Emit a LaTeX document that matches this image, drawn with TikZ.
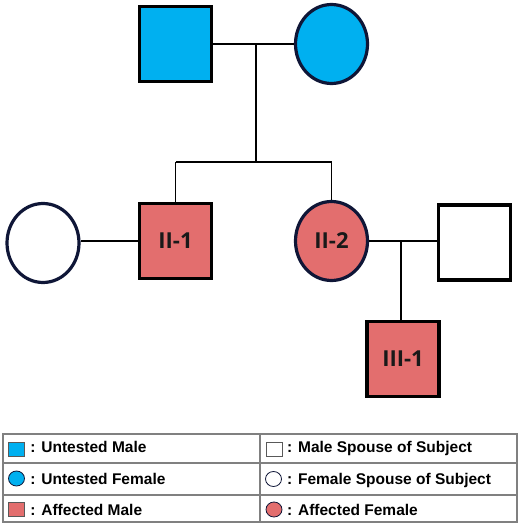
\documentclass[tikz,border=0pt]{standalone}
\usepackage{fontspec}
\setmainfont{Liberation Sans}
\newfontfamily\pedfont{Open Sans}
\usetikzlibrary{shapes.geometric}
\newlength{\du}
\setlength{\du}{1pt}
\definecolor{untestedcolor}{rgb}{0.000000, 0.690196, 0.941176}
\definecolor{affectedcolor}{rgb}{0.890196, 0.431373, 0.431373}
\definecolor{circlecolor}{rgb}{0.058824, 0.086275, 0.215686}
\definecolor{legendcolor}{rgb}{0.501961, 0.501961, 0.501961}
\tikzset{
  male/.style={rectangle, draw=black, line width=3.2\du, minimum width=72\du, minimum height=75\du, inner sep=0pt},
  female/.style={ellipse, draw=circlecolor, line width=3.2\du, minimum width=72\du, minimum height=79\du, inner sep=0pt},
  pedlabel/.style={text=black!90, font=\pedfont\bfseries\fontsize{22}{26}\selectfont},
  keymale/.style={rectangle, draw=black!65, line width=0.8\du, minimum width=16\du, minimum height=14\du, inner sep=0pt},
  keyfemale/.style={ellipse, draw=circlecolor, line width=0.8\du, minimum width=16\du, minimum height=15\du, inner sep=0pt},
  keytext/.style={anchor=base west, inner sep=0pt, font=\bfseries\fontsize{15.5}{18}\selectfont},
  link/.style={draw=black, line width=1.5\du},
}

\begin{document}
\begin{tikzpicture}
\pgftransformxscale{1.000000}
\pgftransformyscale{-1.000000}
\useasboundingbox (0\du,0\du) rectangle (520\du,525\du);
% generation I
\node[male, fill=untestedcolor] (father) at (175.5\du,44\du){};
\node[female, fill=untestedcolor] (mother) at (331.5\du,44\du){};
\coordinate (mI) at (256\du,44\du);
\coordinate (sib) at (256\du,162\du);
% generation II
\node[female, fill=white] (wifeII) at (43\du,243\du){};
\node[male, fill=affectedcolor, pedlabel] (II1) at (175.5\du,241\du){II-1};
\node[female, fill=affectedcolor, pedlabel] (II2) at (331.5\du,241\du){II-2};
\node[male, fill=white] (husbandII) at (474.5\du,242.5\du){};
\coordinate (mII) at (401\du,241\du);
% generation III
\node[male, fill=affectedcolor, pedlabel] (III1) at (403\du,359\du){III-1};
% lines
\draw[link] (father.east) -- (mother.west);
\draw[link] (mI) -- (sib);
\draw[link] (II1.north |- sib) -- (II2.north |- sib);
\draw[link] (II1.north |- sib) -- (II1.north);
\draw[link] (II2.north |- sib) -- (II2.north);
\draw[link] (II1.west) -- (II1.west -| wifeII.east);
\draw[link] (II2.east) -- (II2.east -| husbandII.west);
\draw[link] (mII) -- (mII |- III1.north);
% legend table
\draw[legendcolor, line width=1.5\du] (3\du,434\du) rectangle (517\du,522\du);
\draw[legendcolor, line width=1.5\du] (3\du,463\du) -- (517\du,463\du);
\draw[legendcolor, line width=1.5\du] (3\du,495\du) -- (517\du,495\du);
\draw[legendcolor, line width=1.5\du] (260\du,434\du) -- (260\du,522\du);
% setfont left to latex
\node[keymale, fill=untestedcolor] (keyUM) at (16.5\du,449\du){};
\node[keytext] (keyUMtext) at (30.3\du,452.7\du){: Untested Male};
\node[keyfemale, fill=untestedcolor] (keyUF) at (16.5\du,478.5\du){};
\node[keytext] (keyUFtext) at (30.3\du,484\du){: Untested Female};
\node[keymale, fill=affectedcolor] (keyAM) at (16.5\du,509.5\du){};
\node[keytext] (keyAMtext) at (30.3\du,515\du){: Affected Male};
\node[keymale, fill=white] (keySM) at (274\du,449\du){};
\node[keytext] (keySMtext) at (287\du,452.7\du){: Male Spouse of Subject};
\node[keyfemale, fill=white] (keySF) at (273.5\du,479\du){};
\node[keytext] (keySFtext) at (287\du,484\du){: Female Spouse of Subject};
\node[keyfemale, fill=affectedcolor] (keyAF) at (274\du,509.5\du){};
\node[keytext] (keyAFtext) at (287\du,515\du){: Affected Female};
\end{tikzpicture}
\end{document}
